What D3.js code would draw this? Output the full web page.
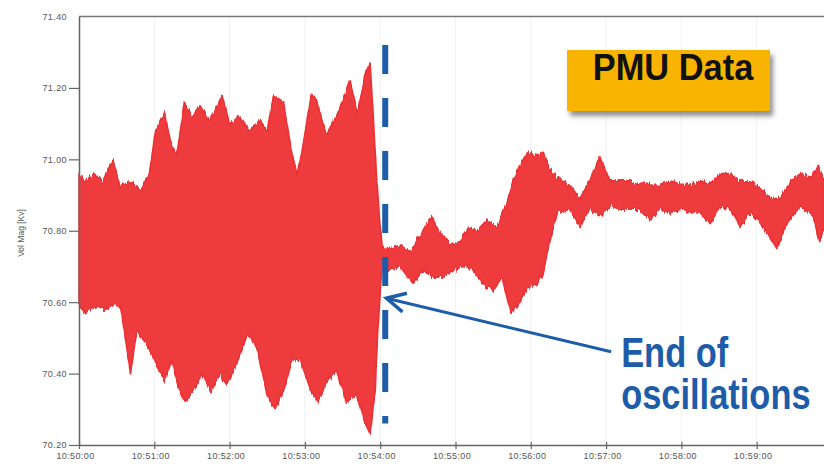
<!DOCTYPE html>
<html>
<head>
<meta charset="utf-8">
<script src="https://cdn.jsdelivr.net/npm/d3@7"></script>
<style>
  body { margin: 0; background: #fff; }
  text { font-family: "Liberation Sans", Arial, sans-serif; }
</style>
</head>
<body>
<svg width="824" height="466"></svg>
<script>
var upperTimes = [0,5,12,19,27,33,41,49,56,61,68,73,78,84,90,97,104,109,114,120,
  128,136,144,150,155,163,170,174,178,185,189,197,205,212,216,222,228,232,234,237,
  240,242,248,256,264,272,281,288,296,304,310,317,325,333,341,346,351,358,365,370,
  375,381,391,399,407,415,423,431,439,447,455,463,471,479,487,495,503,511,519,527,
  535,543,551,559,567,575,583,589,594];
var upperValues = [70.96,70.94,70.96,70.94,71.00,70.92,70.94,70.91,70.96,71.08,
  71.13,71.05,71.01,71.16,71.12,71.15,71.11,71.14,71.18,71.10,
  71.12,71.08,71.11,71.08,71.18,71.16,71.01,70.96,71.03,71.18,
  71.17,71.07,71.12,71.18,71.22,71.13,71.24,71.27,71.15,70.96,
  70.81,70.75,70.75,70.76,70.74,70.79,70.84,70.79,70.76,70.77,
  70.81,70.80,70.83,70.81,70.88,70.94,70.98,71.02,71.01,71.02,
  70.97,70.95,70.93,70.89,70.94,71.01,70.94,70.94,70.94,70.93,
  70.93,70.93,70.94,70.93,70.93,70.94,70.93,70.96,70.96,70.94,
  70.94,70.92,70.89,70.89,70.94,70.96,70.95,70.98,70.94];

var lowerTimes = [0,5,12,19,27,33,41,46,53,61,68,74,80,85,92,98,105,112,118,126,
  134,142,150,156,163,170,176,184,190,197,205,213,221,227,232,236,238,241,248,256,
  266,274,282,290,298,306,314,322,330,337,344,350,357,365,370,375,381,391,399,407,
  415,423,431,439,447,455,463,471,479,487,495,503,511,519,527,535,543,551,556,564,
  575,585,590,594];
var lowerValues = [70.59,70.57,70.59,70.58,70.59,70.59,70.40,70.52,70.49,70.43,
  70.38,70.44,70.35,70.32,70.36,70.40,70.35,70.40,70.37,70.43,
  70.51,70.47,70.34,70.30,70.35,70.44,70.44,70.36,70.32,70.37,
  70.41,70.32,70.34,70.27,70.23,70.35,70.51,70.68,70.69,70.70,
  70.65,70.69,70.67,70.67,70.69,70.70,70.69,70.65,70.63,70.67,
  70.57,70.59,70.64,70.65,70.68,70.77,70.85,70.86,70.81,70.86,
  70.84,70.87,70.86,70.86,70.86,70.83,70.86,70.85,70.86,70.85,
  70.85,70.82,70.87,70.86,70.81,70.85,70.82,70.78,70.75,70.82,
  70.87,70.84,70.77,70.81];

var tickLabels = ["10:50:00","10:51:00","10:52:00","10:53:00","10:54:00",
  "10:55:00","10:56:00","10:57:00","10:58:00","10:59:00"];
var yTicks = [70.2, 70.4, 70.6, 70.8, 71.0, 71.2, 71.4];

var oscEnd = 244;                       // seconds, dashed marker
var dashRange = [70.26, 71.32];
var arrowTip = {t: 245, v: 70.611};
var arrowTail = {t: 424.5, v: 70.461};
var noteLines = ["End of", "oscillations"];
var noteAt = {t: 432, v: 70.418};

var svg = d3.select("svg"),
    plotLeft = 79, plotTop = 16.5, plotBottom = 445;

var parse = d3.timeParse("%H:%M:%S");
var base = parse("10:50:00");
function sec(s) { return d3.timeSecond.offset(base, s); }

var x = d3.scaleTime()
    .domain([base, sec(600)])
    .range([plotLeft, plotLeft + 600 * 1.255]);
var y = d3.scaleLinear()
    .domain([70.2, 71.4])
    .range([plotBottom, plotTop]);

var tickDates = tickLabels.map(parse);
var defs = svg.append("defs");

// rough edge texture for the dense trace
var rough = defs.append("filter").attr("id", "rough")
  .attr("filterUnits", "userSpaceOnUse")
  .attr("x", 0).attr("y", 0).attr("width", 824).attr("height", 466);
rough.append("feTurbulence")
  .attr("type", "fractalNoise").attr("baseFrequency", "0.55 0.04")
  .attr("numOctaves", 2).attr("seed", 4).attr("result", "noise");
rough.append("feColorMatrix")
  .attr("in", "noise").attr("type", "matrix")
  .attr("values", "0 0 0 0 0.5  0 1 0 0 0  0 0 0 0 0  0 0 0 0 1")
  .attr("result", "map");
rough.append("feDisplacementMap")
  .attr("in", "SourceGraphic").attr("in2", "map")
  .attr("scale", 9).attr("xChannelSelector", "R").attr("yChannelSelector", "G");

// faint minute grid
svg.append("g").selectAll("line")
  .data(tickDates)
  .enter().append("line")
  .attr("x1", function(d) { return x(d); })
  .attr("x2", function(d) { return x(d); })
  .attr("y1", plotTop).attr("y2", plotBottom)
  .attr("stroke", "#f1f1f1");

// band = upper edge forward, lower edge back
var upper = upperTimes.map(function(t, i) { return {t: t, v: upperValues[i]}; });
var lower = lowerTimes.map(function(t, i) { return {t: t, v: lowerValues[i]}; });
var ring = upper.concat(lower.slice().reverse());

var line = d3.line()
    .x(function(d) { return x(sec(d.t)); })
    .y(function(d) { return y(d.v); });

svg.append("path")
  .attr("d", line(ring) + "Z")
  .attr("fill", "#ee3a3c")
  .attr("stroke", "#ea3034")
  .attr("stroke-width", 1.5)
  .attr("stroke-linejoin", "round")
  .attr("filter", "url(#rough)");

// frame top
svg.append("line")
  .attr("x1", plotLeft).attr("x2", x(sec(600)))
  .attr("y1", plotTop).attr("y2", plotTop)
  .attr("stroke", "#777").attr("stroke-width", 1.5);

var yAxis = svg.append("g")
  .attr("transform", "translate(" + plotLeft + ",0)")
  .call(d3.axisLeft(y).tickValues(yTicks).tickFormat(d3.format(".2f"))
    .tickSize(10).tickSizeOuter(0).tickPadding(2));

var xAxis = svg.append("g")
  .attr("transform", "translate(0," + plotBottom + ")")
  .call(d3.axisBottom(x).tickValues(tickDates).tickFormat(d3.timeFormat("%H:%M:%S"))
    .tickSize(4).tickSizeOuter(0).tickPadding(4));
xAxis.selectAll(".tick line").attr("y1", -3);
xAxis.selectAll(".tick text").attr("dx", -4);

[yAxis, xAxis].forEach(function(a) {
  a.select(".domain").attr("stroke", "#666").attr("stroke-width", 1.5);
  a.selectAll(".tick line").attr("stroke", "#666").attr("stroke-width", 1.2);
  a.selectAll(".tick text")
    .attr("fill", "#555")
    .style("font-size", "9px")
    .style("letter-spacing", "0.4px")
    .style("font-family", "'Liberation Sans', Arial, sans-serif");
});
yAxis.selectAll(".tick").filter(function(d) { return d === 71.4; }).select("line").remove();

svg.append("text")
  .attr("transform", "translate(24,233) rotate(-90)")
  .attr("text-anchor", "middle")
  .attr("fill", "#555")
  .style("font-size", "8.5px")
  .text("Vol Mag [Kv]");

// dashed end-of-oscillation marker
svg.append("line")
  .attr("x1", x(sec(oscEnd))).attr("x2", x(sec(oscEnd)))
  .attr("y1", y(dashRange[1])).attr("y2", y(dashRange[0]))
  .attr("stroke", "#1d5ca8")
  .attr("stroke-width", 6)
  .attr("stroke-dasharray", "29,24");

// arrow
var tx = x(sec(arrowTip.t)), ty = y(arrowTip.v),
    ex = x(sec(arrowTail.t)), ey = y(arrowTail.v);
var ang = Math.atan2(ey - ty, ex - tx), barb = 21, spread = 27 * Math.PI / 180;
svg.append("line")
  .attr("x1", tx).attr("y1", ty).attr("x2", ex).attr("y2", ey)
  .attr("stroke", "#1d5ca8").attr("stroke-width", 3);
svg.append("path")
  .attr("d", "M" + (tx + barb * Math.cos(ang - spread)) + "," + (ty + barb * Math.sin(ang - spread)) +
    "L" + tx + "," + ty +
    "L" + (tx + barb * Math.cos(ang + spread)) + "," + (ty + barb * Math.sin(ang + spread)))
  .attr("fill", "none")
  .attr("stroke", "#1d5ca8").attr("stroke-width", 3.5)
  .attr("stroke-linejoin", "miter");

noteLines.forEach(function(s, i) {
  svg.append("g")
    .attr("transform", "translate(" + x(sec(noteAt.t)) + "," + (y(noteAt.v) + i * 42) + ") scale(0.82,1)")
    .append("text")
    .attr("fill", "#1d5ca8")
    .style("font-size", "42px")
    .style("font-weight", "bold")
    .text(s);
});

// PMU Data label box
defs.append("filter").attr("id", "sh")
  .attr("x", "-10%").attr("y", "-10%").attr("width", "130%").attr("height", "150%")
  .append("feDropShadow")
  .attr("dx", 3).attr("dy", 5).attr("stdDeviation", 2.5)
  .attr("flood-color", "#444").attr("flood-opacity", 0.6);

svg.append("rect")
  .attr("x", 567).attr("y", 50).attr("width", 203).attr("height", 61)
  .attr("fill", "#f8b400")
  .attr("filter", "url(#sh)");
svg.append("g")
  .attr("transform", "translate(673,80) scale(0.93,1)")
  .append("text")
  .attr("text-anchor", "middle")
  .attr("fill", "#111")
  .style("font-size", "37px")
  .style("font-weight", "bold")
  .text("PMU Data");
</script>
</body>
</html>
